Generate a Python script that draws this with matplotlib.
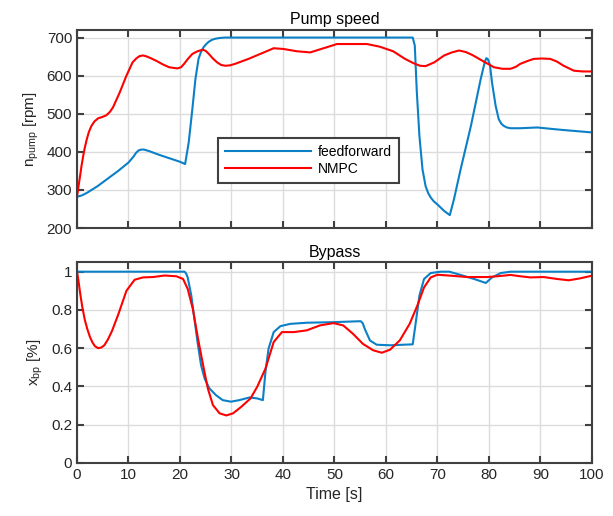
import numpy as np
import matplotlib
matplotlib.use("Agg")
import matplotlib.pyplot as plt

plt.rcParams['font.family'] = ['Liberation Sans', 'DejaVu Sans']

# Pump speed [rpm]
t_ff_pump = [0, 1, 2, 4, 6, 8, 10, 11, 11.5, 12, 12.5, 13, 14, 16, 18, 20, 21,
             21.7, 22.4, 23, 23.6, 24.1, 24.6, 25.1, 25.6, 26.2, 26.9, 27.8, 28.8, 40, 50, 60, 65.2,
             65.6, 66, 66.5, 67.1, 67.7, 68.2, 68.7, 69.3, 70, 71.3, 72.4, 73.2, 74.5,
             76.5, 78.4, 79.2, 79.5, 79.8, 80.2, 80.6, 81.3, 81.9, 82.4, 82.9, 83.5, 84.2,
             86, 89.4, 93.9, 100]
ff_pump = [282, 286, 293, 310, 330, 350, 372, 388, 398, 404, 406, 406, 402, 392, 383, 374, 368,
           425, 512, 591, 644, 663, 675, 683, 689, 694, 697, 699, 700, 700, 700, 700, 700,
           679, 556, 442, 354, 310, 292, 280, 270, 262, 245, 234, 275, 354,
           468, 591, 636, 646, 643, 628, 582, 521, 486, 474, 468, 464, 462,
           462, 464, 458, 451]

t_mpc_pump = [0, 0.3, 0.6, 0.9, 1.2, 1.5, 1.9, 2.3, 2.8, 3.4, 4.1, 5, 5.7, 6.4, 7, 8.3,
              9.6, 10.8, 11.5, 12.1, 12.8, 13.4, 14.3, 15.4, 16.6,
              17.9, 19.5, 20.2, 20.8, 21.6, 22.4, 23.4, 24.4, 25, 25.6, 26.4, 27.2, 28, 28.8,
              29.7, 30.7, 33.3, 36.3,
              38.2, 40.1, 42.7, 45.3, 47.9, 50.5, 53, 56.3, 58.8, 61.4, 63.7,
              65.3, 66.6, 67.7, 69.4, 71.3, 72.8, 74.2, 75.5, 76.8, 79, 81, 82.6, 84.2,
              85.2, 86.1, 87.4, 88.7, 90.3, 91.9, 93.2, 94.5, 96.5, 98.2, 100]
mpc_pump = [282, 310, 337, 365, 389, 410, 433, 452, 468, 480, 488, 492, 496, 505, 517, 556,
            600, 635, 645, 651, 653, 651, 646, 639, 630,
            622, 619, 622, 631, 645, 657, 664, 668, 665, 657, 645, 635, 628, 626,
            627, 631, 644, 661,
            672, 670, 664, 661, 672, 683, 683, 683, 676, 664, 644,
            633, 626, 625, 635, 653, 661, 666, 662, 654, 637, 622, 618, 618,
            623, 631, 638, 644, 645, 644, 637, 626, 613, 611, 611]

# Bypass [-]
t_ff_bp = [0, 20.9, 21.2, 21.5, 22.2, 22.8, 23.5, 24.1, 24.8, 25.7, 27, 28.3, 29.9,
           31.5, 33.5, 35, 36.1, 36.6, 37.2, 38.2, 39.5, 41.4, 44.6, 49.8, 55.1,
           55.5, 55.9, 56.9, 58.2, 60.8, 65.2, 65.8, 66.5, 67.4, 68.7, 70.6, 72.3,
           74.5, 77.1, 79.4, 80.6, 82.3, 84.2, 100]
ff_bp = [1.0, 1.0, 0.99, 0.97, 0.875, 0.753, 0.615, 0.51, 0.44, 0.39, 0.354, 0.328, 0.32,
         0.328, 0.342, 0.337, 0.328, 0.476, 0.597, 0.684, 0.715, 0.727, 0.733, 0.736, 0.741,
         0.73, 0.70, 0.64, 0.618, 0.615, 0.62, 0.736, 0.875, 0.962, 0.993, 1.0, 1.0,
         0.983, 0.962, 0.941, 0.97, 0.993, 1.0, 1.0]

t_mpc_bp = [0, 0.3, 0.6, 1, 1.5, 2, 2.5, 3, 3.5, 4.1, 4.7, 5.3, 6, 6.8, 8, 9.6, 11.2, 12.8,
            14.8, 17, 19.3, 20.6, 21.5, 22.5, 23.5, 24.5, 25.4, 26.4, 27.7, 29, 30.3,
            31.9, 33.7, 35, 36.6, 38.2, 39.8, 42.1, 44.6, 47.2, 49.8, 51.7, 53.6, 55.5,
            57.5, 59.2, 60.8, 62.7, 64.6, 66.1, 67.4, 68.7, 70, 72.6, 75.8, 79.7, 81.6,
            84.2, 86.1, 88.1, 90.6, 93.2, 95.5, 97.7, 100]
mpc_bp = [1.0, 0.95, 0.89, 0.82, 0.75, 0.70, 0.66, 0.63, 0.61, 0.60, 0.603, 0.615, 0.645,
          0.69, 0.775, 0.90, 0.958, 0.97,
          0.972, 0.98, 0.976, 0.962, 0.91, 0.805, 0.65, 0.51, 0.39, 0.302, 0.259, 0.248, 0.259,
          0.293, 0.337, 0.398, 0.493, 0.632, 0.684, 0.684, 0.693, 0.719, 0.731, 0.719, 0.675,
          0.623, 0.589, 0.576, 0.592, 0.641, 0.727, 0.823, 0.918, 0.97, 0.984, 0.979, 0.972,
          0.972, 0.976, 0.983, 0.976, 0.97, 0.972, 0.962, 0.955, 0.965, 0.979]

blue = '#0b80c6'
red = '#ff0000'
txt = '#262626'
edge = '#404040'

fig = plt.figure(figsize=(6.13, 5.16), dpi=100)
ax1 = fig.add_axes([0.1256, 0.558, 0.840, 0.384])
ax2 = fig.add_axes([0.1256, 0.103, 0.840, 0.389])


def style(ax):
    ax.set_xlim(0, 100)
    ax.set_xticks(np.arange(0, 101, 10))
    ax.grid(True, color='#dcdcdc', linewidth=1.0)
    ax.set_axisbelow(True)
    for s in ax.spines.values():
        s.set_color(edge)
        s.set_linewidth(1.5)
    ax.tick_params(direction='in', length=5, width=1.5, color=edge,
                   top=True, right=True, labelsize=11, labelcolor=txt)


ax1.plot(t_ff_pump, ff_pump, color=blue, lw=1.5, label='feedforward')
ax1.plot(t_mpc_pump, mpc_pump, color=red, lw=1.5, label='NMPC')
style(ax1)
ax1.set_ylim(200, 720)
ax1.set_yticks(np.arange(200, 701, 100))
ax1.tick_params(labelbottom=False)
ax1.set_title('Pump speed', fontsize=11.5, color='black', pad=4)
ax1.set_ylabel(r'n$_{\mathregular{pump}}$ [rpm]', fontsize=11, color=txt)
leg = ax1.legend(loc='upper left', bbox_to_anchor=(0.274, 0.455),
                 fancybox=False, fontsize=10, handlelength=6.2, handletextpad=0.5,
                 borderpad=0.5, labelspacing=0.25, borderaxespad=0, framealpha=1)
leg.get_frame().set_edgecolor(edge)
leg.get_frame().set_linewidth(1.5)

ax2.plot(t_ff_bp, ff_bp, color=blue, lw=1.5)
ax2.plot(t_mpc_bp, mpc_bp, color=red, lw=1.5)
style(ax2)
ax2.set_ylim(0, 1.05)
ax2.set_yticks([0, 0.2, 0.4, 0.6, 0.8, 1])
ax2.set_yticklabels(['0', '0.2', '0.4', '0.6', '0.8', '1'])
ax2.set_title('Bypass', fontsize=11.5, color='black', pad=4)
ax2.set_ylabel(r'x$_{\mathregular{bp}}$ [%]', fontsize=11, color=txt)
ax2.set_xlabel('Time [s]', fontsize=11.5, color=txt)

fig.savefig('out.png', dpi=100)
